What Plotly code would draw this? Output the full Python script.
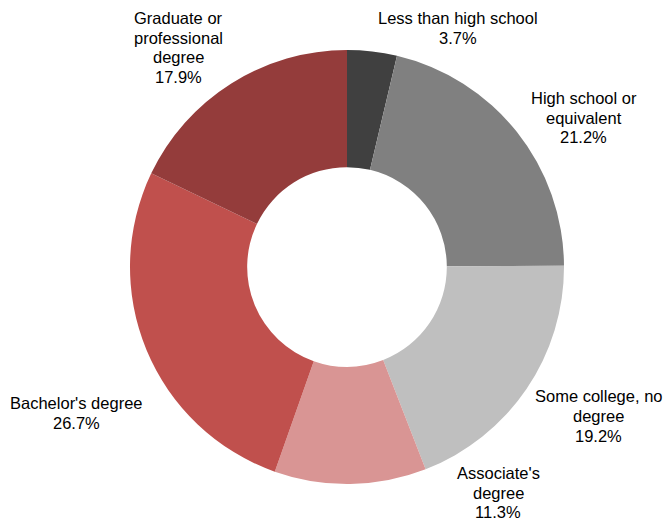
import plotly.graph_objects as go

categories = ["Less than high school", "High school or equivalent", "Some college, no degree",
              "Associate's degree", "Bachelor's degree", "Graduate or professional degree"]
label_lines = [["Less than high school"], ["High school or", "equivalent"], ["Some college, no", "degree"],
               ["Associate's", "degree"], ["Bachelor's degree"], ["Graduate or", "professional", "degree"]]
shares = [3.7, 21.2, 19.2, 11.3, 26.7, 17.9]
colors = ["#404040", "#808080", "#bfbfbf", "#d99594", "#c0504d", "#943c3b"]

# label block centres (pixels from top-left)
label_px = [458, 583.5, 598.5, 498, 76, 178]
label_py = [28, 117.5, 416, 492.5, 413, 47.5]
LINE_H = 19.6

W, H = 665, 522
cx, cy, r = 347, 267, 217

fig = go.Figure(go.Pie(
    labels=categories,
    values=shares,
    marker=dict(colors=colors, line=dict(width=0)),
    hole=0.46,
    sort=False,
    direction="clockwise",
    rotation=0,
    textinfo="none",
    hoverinfo="label+percent",
    showlegend=False,
    domain=dict(x=[(cx - r) / W, (cx + r) / W], y=[(H - cy - r) / H, (H - cy + r) / H]),
))

for lines, v, px, py in zip(label_lines, shares, label_px, label_py):
    all_lines = lines + [f"{v:.1f}%"]
    n = len(all_lines)
    for i, t in enumerate(all_lines):
        ly = py + (i - (n - 1) / 2) * LINE_H
        fig.add_annotation(x=px / W, y=1 - ly / H, xref="paper", yref="paper",
                           xanchor="center", yanchor="middle",
                           text=t, showarrow=False, align="center",
                           font=dict(family="Liberation Sans, Arial, sans-serif", size=16.5, color="#000000"))

fig.update_layout(width=W, height=H, margin=dict(l=0, r=0, t=0, b=0),
                  paper_bgcolor="white", plot_bgcolor="white")
fig.write_html("out.html", config={"displayModeBar": False},
               post_script="document.body.style.margin='0';document.body.style.overflow='hidden';")
